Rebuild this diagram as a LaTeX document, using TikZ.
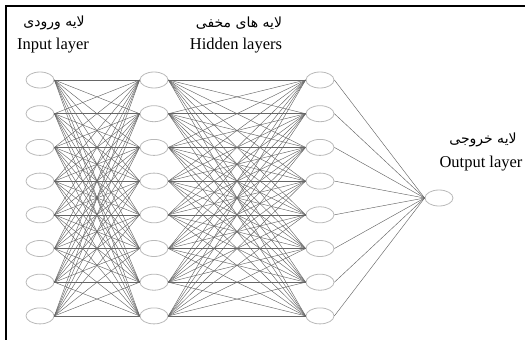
\documentclass[tikz,border=0pt]{standalone}
\usepackage{fontspec}
\setmainfont{Liberation Serif}
\newfontfamily\farsifont[Script=Arabic]{DejaVu Sans}
\TeXXeTstate=1
\usetikzlibrary{shapes.geometric}
\begin{document}
\begin{tikzpicture}[x=1pt,y=-1pt,
  neuron/.style={draw=gray!55,line width=0.8pt,ellipse,minimum width=28pt,minimum height=16pt,inner sep=0pt},
  link/.style={draw=black!60,line width=0.45pt},
  englab/.style={font=\fontsize{16.5}{18}\selectfont,inner sep=0pt},
  falab/.style={font=\farsifont\fontsize{14}{16}\selectfont,inner sep=0pt}]
  \useasboundingbox (0,0) rectangle (525,340);
  \draw[line width=2pt] (6,341) -- (6,6) -- (526,6);
  % layers
  \foreach \i in {1,...,8} {
    \node[neuron] (in\i) at (40,{80+(\i-1)*33.7}) {};
    \node[neuron] (hida\i) at (154,{80+(\i-1)*33.7}) {};
    \node[neuron] (hidb\i) at (320,{80+(\i-1)*33.7}) {};
  }
  \node[neuron] (out) at (439,198) {};
  % connections
  \foreach \i in {1,...,8} {
    \foreach \j in {1,...,8} {
      \draw[link] (in\i.east) -- (hida\j.west);
      \draw[link] (hida\i.east) -- (hidb\j.west);
    }
    \draw[link] (hidb\i.east) -- (out.west);
  }
  % labels
  \node[falab] (infa) at (54,23) {\beginR لایه ورودی\endR};
  \node[englab] (inen) at (53,46) {Input layer};
  \node[falab] (hidfa) at (239,23) {\beginR لایه های مخفی\endR};
  \node[englab] (hiden) at (236,46) {Hidden layers};
  \node[falab] (outfa) at (483,140) {\beginR لایه خروجی\endR};
  \node[englab] (outen) at (481,164) {Output layer};
\end{tikzpicture}
\end{document}
